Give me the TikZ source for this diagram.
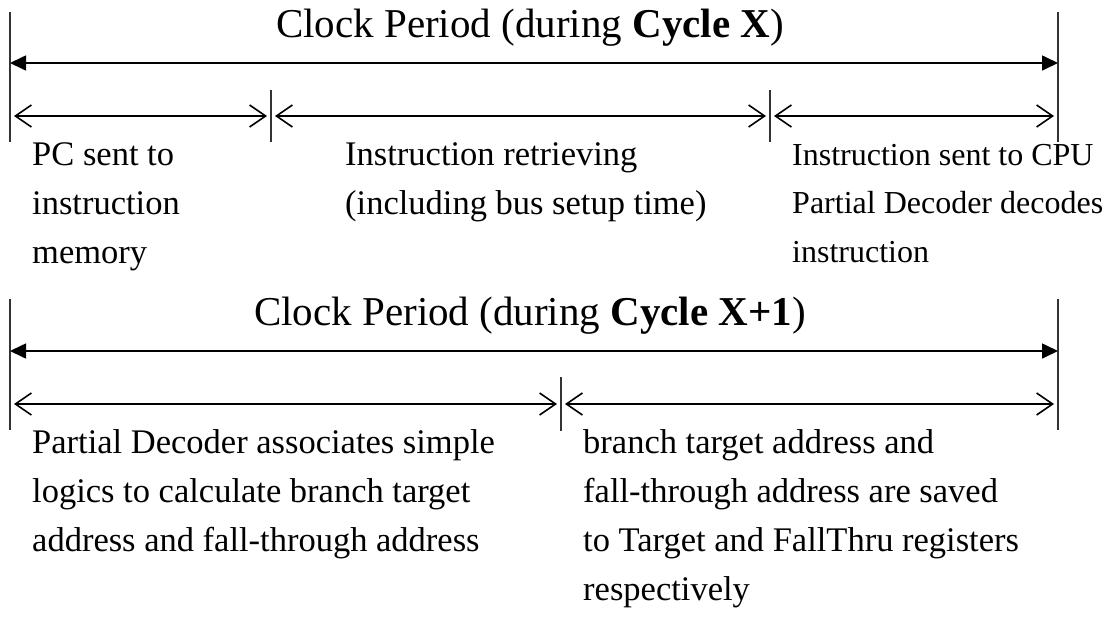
\documentclass[tikz,border=0pt]{standalone}
\usepackage{fontspec}
\setmainfont{Liberation Serif}
\usetikzlibrary{arrows.meta}
\begin{document}
\begin{tikzpicture}[x=1pt,y=-1pt,
  bound/.style={line width=1.3pt, draw=black!80},
  period/.style={line width=1.6pt,
    {Triangle[length=16pt,width=15pt]}-{Triangle[length=16pt,width=15pt]}},
  phase/.style={line width=1.6pt,
    {Straight Barb[length=16pt,width=22pt,line width=1.6pt]}-{Straight Barb[length=16pt,width=22pt,line width=1.6pt]},
    shorten <=4pt, shorten >=4pt},
  title/.style={font=\fontsize{41}{49}\selectfont, anchor=base, inner sep=0pt},
  desc/.style={font=\fontsize{34.5}{49}\selectfont, align=left, anchor=base west, inner sep=0pt},
  descsmall/.style={desc, font=\fontsize{32}{48.5}\selectfont},
]
\useasboundingbox (0,0) rectangle (1115,621);

% ---- Cycle X ----
\coordinate (l1t) at (10,12);   \coordinate (l1b) at (10,142);
\coordinate (r1t) at (1058,12); \coordinate (r1b) at (1058,142);
\coordinate (m1a) at (271,90);  \coordinate (m1ab) at (271,142);
\coordinate (m1b) at (770,90);  \coordinate (m1bb) at (770,142);
\draw[bound] (l1t) -- (l1b);
\draw[bound] (r1t) -- (r1b);
\draw[bound] (m1a) -- (m1ab);
\draw[bound] (m1b) -- (m1bb);

\coordinate (p1l) at (10,63);  \coordinate (p1r) at (1058,63);
\draw[period] (p1l) -- (p1r);
\coordinate (s1a) at (10,116);  \coordinate (s1b) at (271,116);
\coordinate (s1c) at (770,116); \coordinate (s1d) at (1058,116);
\draw[phase] (s1a) -- (s1b);
\draw[phase] (s1b) -- (s1c);
\draw[phase] (s1c) -- (s1d);

% multi-line text nodes: the base anchor sits on the last line
\node[title] (t1) at (530,37) {Clock Period (during \textbf{Cycle X})};
\node[desc] (d1a) at (32,263) {PC sent to\\instruction\\memory};
\node[desc] (d1b) at (345,214) {Instruction retrieving\\(including bus setup time)};
\node[descsmall] (d1c) at (792,262) {Instruction sent to CPU\\Partial Decoder decodes\\instruction};

% ---- Cycle X+1 ----
\coordinate (l2t) at (10,299);   \coordinate (l2b) at (10,430);
\coordinate (r2t) at (1058,299); \coordinate (r2b) at (1058,430);
\coordinate (m2a) at (561,377);  \coordinate (m2ab) at (561,431);
\draw[bound] (l2t) -- (l2b);
\draw[bound] (r2t) -- (r2b);
\draw[bound] (m2a) -- (m2ab);

\coordinate (p2l) at (10,351);  \coordinate (p2r) at (1058,351);
\draw[period] (p2l) -- (p2r);
\coordinate (s2a) at (10,404);  \coordinate (s2b) at (561,404);
\coordinate (s2c) at (1058,404);
\draw[phase] (s2a) -- (s2b);
\draw[phase] (s2b) -- (s2c);

\node[title] (t2) at (530,325) {Clock Period (during \textbf{Cycle X+1})};
\node[desc] (d2a) at (32,551) {Partial Decoder associates simple\\logics to calculate branch target\\address and fall-through address};
\node[desc] (d2b) at (583,600) {branch target address and\\fall-through address are saved\\to Target and FallThru registers\\respectively};
\end{tikzpicture}
\end{document}
